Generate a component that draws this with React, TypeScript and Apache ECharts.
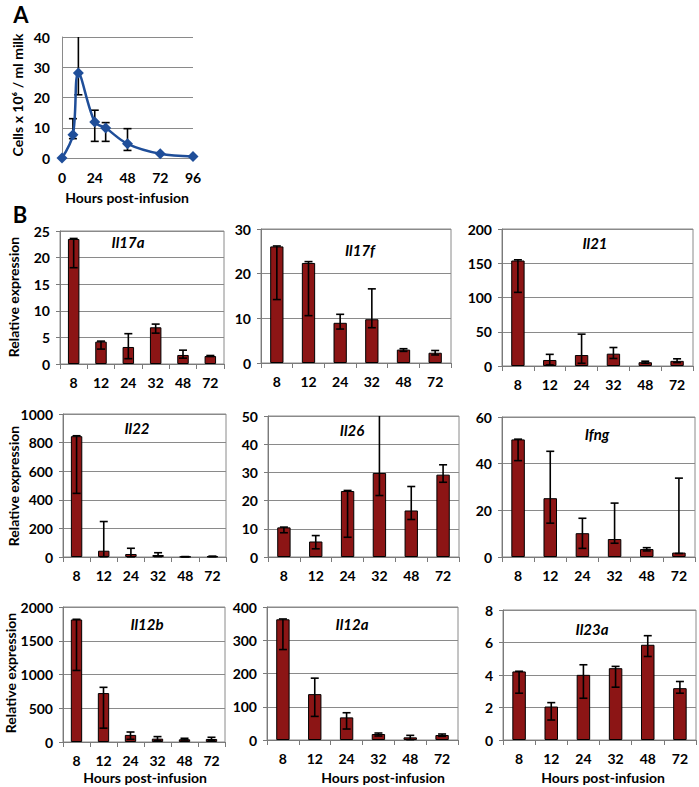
import React, { useEffect, useRef } from 'react';
import * as echarts from 'echarts';

// ---------- data ----------
const hours = ['8', '12', '24', '32', '48', '72'];

const cellHours = [0, 8, 12, 24, 32, 48, 72, 96];
const cellCounts = [0, 7.7, 28.1, 11.9, 9.9, 4.7, 1.4, 0.5];
const cellErrLow = [null, 6.4, 20.9, 5.5, 5.5, 2.5, null, null];
const cellErrHigh = [null, 13, 41, 15.8, 11.7, 9.7, null, null];

const il17aMean = [23.5, 4.2, 3.2, 6.9, 1.7, 1.5];
const il17aLow = [18.1, 2.8, 1.0, 5.8, 1.1, 1.4];
const il17aHigh = [23.6, 4.3, 5.7, 7.5, 2.6, 1.6];

const il17fMean = [26.1, 22.4, 9.0, 9.8, 3.0, 2.3];
const il17fLow = [14.2, 10.6, 7.6, 7.9, 2.6, 1.8];
const il17fHigh = [26.2, 22.7, 10.9, 16.6, 3.2, 2.8];

const il21Mean = [154, 8.8, 16, 18, 5.5, 7.5];
const il21Low = [107.5, 1.5, 4, 11, 4, 5];
const il21High = [155, 17, 46.5, 27, 7, 10.5];

const il22Mean = [845, 44, 21, 14, 2, 4];
const il22Low = [445, 2, 1, 3, 1, 2];
const il22High = [848, 248, 61, 30, 3, 6];

const il26Mean = [10.5, 5.5, 23.4, 29.8, 16.5, 29.2];
const il26Low = [8.6, 2.9, 7.0, 21.8, 13.3, 26.5];
const il26High = [10.6, 7.6, 23.6, 58, 25, 32.7];

const ifngMean = [50.4, 25.2, 10.2, 7.7, 3.4, 1.9];
const ifngLow = [41.3, 14.5, 3.7, 5.9, 2.6, 1.5];
const ifngHigh = [50.5, 45.3, 16.6, 23.1, 4.0, 33.8];

const il12bMean = [1815, 725, 105, 50, 40, 45];
const il12bLow = [1060, 205, 40, 20, 30, 25];
const il12bHigh = [1818, 810, 148, 80, 55, 70];

const il12aMean = [363, 138, 68, 18, 8, 15];
const il12aLow = [272, 71, 33, 12, 1, 11];
const il12aHigh = [364, 186, 82, 21, 14, 18];

const il23aMean = [4.22, 2.06, 4.01, 4.42, 5.86, 3.19];
const il23aLow = [2.88, 1.23, 2.57, 3.25, 5.14, 2.88];
const il23aHigh = [4.23, 2.3, 4.63, 4.53, 6.42, 3.6];

const geneNames = ['Il17a', 'Il17f', 'Il21', 'Il22', 'Il26', 'Ifng', 'Il12b', 'Il12a', 'Il23a'];
const yMaxes = [25, 30, 200, 1000, 50, 60, 2000, 400, 8];
const ySteps = [5, 10, 50, 200, 10, 20, 500, 100, 2];
const cellTicksX = [0, 24, 48, 72, 96];

// ---------- layout ----------
const means = [il17aMean, il17fMean, il21Mean, il22Mean, il26Mean, ifngMean, il12bMean, il12aMean, il23aMean];
const lows = [il17aLow, il17fLow, il21Low, il22Low, il26Low, ifngLow, il12bLow, il12aLow, il23aLow];
const highs = [il17aHigh, il17fHigh, il21High, il22High, il26High, ifngHigh, il12bHigh, il12aHigh, il23aHigh];

const grids = [
  { left: 60, top: 231, width: 164, height: 133 },
  { left: 261, top: 229, width: 190, height: 134 },
  { left: 502, top: 229, width: 191, height: 137 },
  { left: 63, top: 414, width: 163, height: 143 },
  { left: 268, top: 416, width: 191, height: 141 },
  { left: 502, top: 417, width: 193, height: 140 },
  { left: 63, top: 607, width: 162, height: 135 },
  { left: 267, top: 607, width: 191, height: 133 },
  { left: 503, top: 610, width: 193, height: 130 },
];
const titlePos = [
  [128, 242], [360, 250], [595, 243],
  [137, 428], [352, 430], [597, 434],
  [147, 624], [352, 624], [592, 629],
];

const FONT = 'Lato, "Open Sans", sans-serif';
const BAR = '#8C1515';
const GRIDC = '#8a8a8a';
const BLUE = '#1F4E99';

function errRender(params: any, api: any) {
  const x = api.value(0);
  const lo = api.coord([x, api.value(1)]);
  const hi = api.coord([x, api.value(2)]);
  const cs = params.coordSys;
  let hy = hi[1];
  let cap = true;
  if (hy < cs.y) { hy = cs.y; cap = false; }
  const w = 4;
  const st = { stroke: '#000', lineWidth: 1.6 };
  const children: any[] = [
    { type: 'line', shape: { x1: lo[0], y1: lo[1], x2: lo[0], y2: hy }, style: st },
    { type: 'line', shape: { x1: lo[0] - w, y1: lo[1], x2: lo[0] + w, y2: lo[1] }, style: st },
  ];
  if (cap) children.push({ type: 'line', shape: { x1: lo[0] - w, y1: hy, x2: lo[0] + w, y2: hy }, style: st });
  return { type: 'group', children };
}

export default function App() {
  const ref = useRef<HTMLDivElement>(null);
  useEffect(() => {
    document.body.style.margin = '0';
    const chart = echarts.init(ref.current!, null, { renderer: 'svg' });
    const labelStyle = { color: '#000', fontWeight: 'bold' as const, fontSize: 14, fontFamily: FONT };
    const plain = (v: number) => String(v);

    const gridOpt: any[] = grids.map((g) => ({ ...g, show: true, borderColor: GRIDC, borderWidth: 1 }));
    gridOpt.push({ left: 62, top: 37, width: 131, height: 121, show: false });

    const xAxes: any[] = grids.map((_, i) => ({
      type: 'category', data: hours, gridIndex: i,
      axisLine: { show: true, lineStyle: { color: '#7a7a7a', width: 1 } },
      axisTick: { show: true, length: 5, alignWithLabel: false, lineStyle: { color: '#7a7a7a' } },
      axisLabel: { ...labelStyle, margin: 11, interval: 0 },
    }));
    xAxes.push({
      type: 'value', gridIndex: 9, min: 0, max: 96, interval: 24,
      axisLine: { show: true, lineStyle: { color: '#8a8a8a' } },
      axisTick: { show: false }, splitLine: { show: false },
      axisLabel: { ...labelStyle, margin: 12, customValues: cellTicksX, formatter: plain },
    });

    const yAxes: any[] = grids.map((_, i) => ({
      type: 'value', gridIndex: i, min: 0, max: yMaxes[i], interval: ySteps[i],
      axisLine: { show: true, lineStyle: { color: '#7a7a7a' } },
      axisTick: { show: true, length: 4, lineStyle: { color: '#7a7a7a' } },
      splitLine: { show: true, lineStyle: { color: GRIDC, width: 1 } },
      axisLabel: { ...labelStyle, margin: 10, formatter: plain },
    }));
    yAxes.push({
      type: 'value', gridIndex: 9, min: 0, max: 40, interval: 10,
      axisLine: { show: true, lineStyle: { color: '#8a8a8a' } },
      axisTick: { show: false },
      splitLine: { show: true, lineStyle: { color: GRIDC, width: 1 } },
      axisLabel: { ...labelStyle, margin: 12, formatter: plain },
    });

    const series: any[] = [];
    grids.forEach((_, i) => {
      series.push({
        type: 'bar', xAxisIndex: i, yAxisIndex: i, data: means[i], barWidth: '42%',
        itemStyle: { color: BAR, borderColor: '#000', borderWidth: 1 },
      });
      series.push({
        type: 'custom', xAxisIndex: i, yAxisIndex: i, z: 5,
        data: means[i].map((_, j) => [j, lows[i][j], highs[i][j]]),
        encode: { x: 0, y: [1, 2] }, renderItem: errRender,
      });
    });
    series.push({
      type: 'custom', xAxisIndex: 9, yAxisIndex: 9, z: 3,
      data: cellHours.map((h, j) => [h, cellErrLow[j], cellErrHigh[j]]).filter((d) => d[1] != null),
      encode: { x: 0, y: [1, 2] }, renderItem: errRender,
    });
    series.push({
      type: 'line', xAxisIndex: 9, yAxisIndex: 9, z: 4, smooth: 0.35,
      data: cellHours.map((h, j) => [h, cellCounts[j]]),
      symbol: 'diamond', symbolSize: 11,
      lineStyle: { color: BLUE, width: 2.5 }, itemStyle: { color: BLUE },
    });

    const graphics: any[] = [];
    geneNames.forEach((n, i) => {
      graphics.push({
        type: 'text', x: titlePos[i][0], y: titlePos[i][1], z: 10,
        style: { text: n, fontFamily: FONT, fontWeight: 'bold', fontStyle: 'italic', fontSize: 15, fill: '#000', textAlign: 'center', textVerticalAlign: 'middle' },
      });
    });
    const txt = (text: string, x: number, y: number, size: number, rot = 0) => ({
      type: 'text', x, y, rotation: rot,
      style: { text, fontFamily: FONT, fontWeight: 'bold', fontSize: size, fill: '#000', textAlign: 'center', textVerticalAlign: 'middle' },
    });
    graphics.push(txt('A', 21, 14, 22));
    graphics.push(txt('B', 20, 214, 22));
    graphics.push(txt('Cells x 10\u2076 / ml milk', 17, 95, 14, Math.PI / 2));
    graphics.push(txt('Hours post-infusion', 127, 197, 14));
    graphics.push(txt('Relative expression', 13, 297, 14, Math.PI / 2));
    graphics.push(txt('Relative expression', 13, 486, 14, Math.PI / 2));
    graphics.push(txt('Relative expression', 10, 673, 14, Math.PI / 2));
    graphics.push(txt('Hours post-infusion', 145, 777, 14));
    graphics.push(txt('Hours post-infusion', 383, 777, 14));
    graphics.push(txt('Hours post-infusion', 603, 777, 14));

    chart.setOption({
      animation: false,
      backgroundColor: '#fff',
      grid: gridOpt,
      xAxis: xAxes,
      yAxis: yAxes,
      series,
      graphic: graphics,
    });
    return () => chart.dispose();
  }, []);
  return <div ref={ref} style={{ position: 'absolute', left: 0, top: 0, width: 699, height: 787 }} />;
}
